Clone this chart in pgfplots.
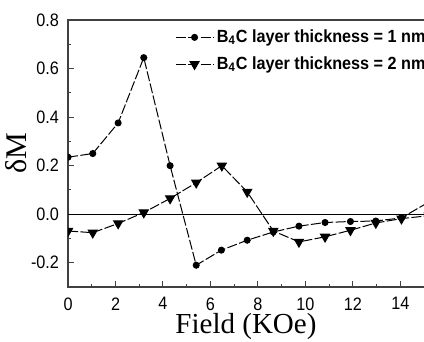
\documentclass[border=0pt]{standalone}
\usepackage{pgfplots}
\pgfplotsset{compat=1.18}
\usepackage{fontspec}
\setmainfont{Liberation Serif}
\newfontfamily\ticksf[FakeStretch=0.9]{Liberation Sans}
\newfontfamily\legsf[FakeStretch=0.92]{Liberation Sans}
\begin{document}
\begin{tikzpicture}
\begin{axis}[
  name=ax,
  scale only axis,
  x=11.85pt, y=121.25pt,
  xmin=0, xmax=15.3, ymin=-0.3, ymax=0.8,
  axis line style={line width=0.7pt, draw=black!75},
  tick style={black!75, line width=0.5pt},
  tick align=inside,
  major tick length=3pt, minor tick length=1.6pt,
  xtick={0,2,...,14}, minor x tick num=1,
  ytick={-0.2,0,0.2,0.4,0.6,0.8}, minor y tick num=1,
  xtick pos=bottom, ytick pos=left,
  /pgf/number format/assume math mode=true,
  yticklabel style={/pgf/number format/fixed,/pgf/number format/fixed zerofill,/pgf/number format/precision=1, font=\ticksf\fontsize{9}{10}\selectfont, xshift=-1pt},
  xticklabel style={font=\ticksf\fontsize{9}{10}\selectfont, inner sep=0.5pt, yshift=-4.5pt},
  xlabel={Field (KOe)},
  xlabel style={at={(axis description cs:0.49,0)}, anchor=north, yshift=-13pt, inner sep=0pt, font=\fontsize{14.5}{15}\selectfont},
  ylabel={δM},
  ylabel style={at={(axis description cs:0,0.5)}, anchor=center, yshift=26pt, inner sep=0pt, font=\fontsize{15}{16}\selectfont},
  clip marker paths=true,
  legend style={draw=none, fill=none, at={(axis cs:4.5,0.775)}, anchor=north west,
    font=\legsf\bfseries\fontsize{8.8}{10}\selectfont, row sep=2.5pt, inner sep=0pt,
    nodes={inner sep=1.5pt}},
  legend cell align=left,
  legend image code/.code={
    \draw[mark repeat=2,mark phase=2,#1] plot coordinates {(0cm,0cm) (0.33cm,0cm) (0.66cm,0cm)};
  },
]
\addplot[black, line width=0.45pt, forget plot] coordinates {(0,0) (15.3,0)};
\addplot[black, line width=0.5pt, dash pattern=on 5pt off 1.2pt, mark=*, mark size=1.5pt, mark options={solid, fill=black}]
 coordinates {(0,0.235)(1.04,0.25)(2.11,0.376)(3.19,0.645)(4.30,0.20)(5.40,-0.21)(6.46,-0.148)(7.55,-0.107)(8.65,-0.073)(9.73,-0.049)(10.83,-0.034)(11.9,-0.030)(12.97,-0.028)(14.05,-0.015)(15.2,0.05)};
\addlegendentry{B\textsubscript{4}C layer thickness = 1 nm}
\addplot[black, line width=0.5pt, dash pattern=on 5pt off 1.2pt, mark=triangle*, mark size=2.6pt, mark options={solid, fill=black, rotate=180}]
 coordinates {(0,-0.069)(1.04,-0.076)(2.11,-0.038)(3.19,0.007)(4.30,0.065)(5.40,0.13)(6.48,0.2)(7.55,0.092)(8.65,-0.069)(9.73,-0.114)(10.83,-0.093)(11.9,-0.066)(12.97,-0.036)(14.05,-0.018)(15.2,-0.006)};
\addlegendentry{B\textsubscript{4}C layer thickness = 2 nm}
\coordinate (sw) at (axis cs:0,-0.3);
\coordinate (ne) at (axis cs:15,0.8);
\end{axis}
\pgfresetboundingbox
\path ([xshift=-34pt,yshift=-27pt]sw) rectangle ([yshift=10pt]ne);
\end{tikzpicture}
\end{document}
